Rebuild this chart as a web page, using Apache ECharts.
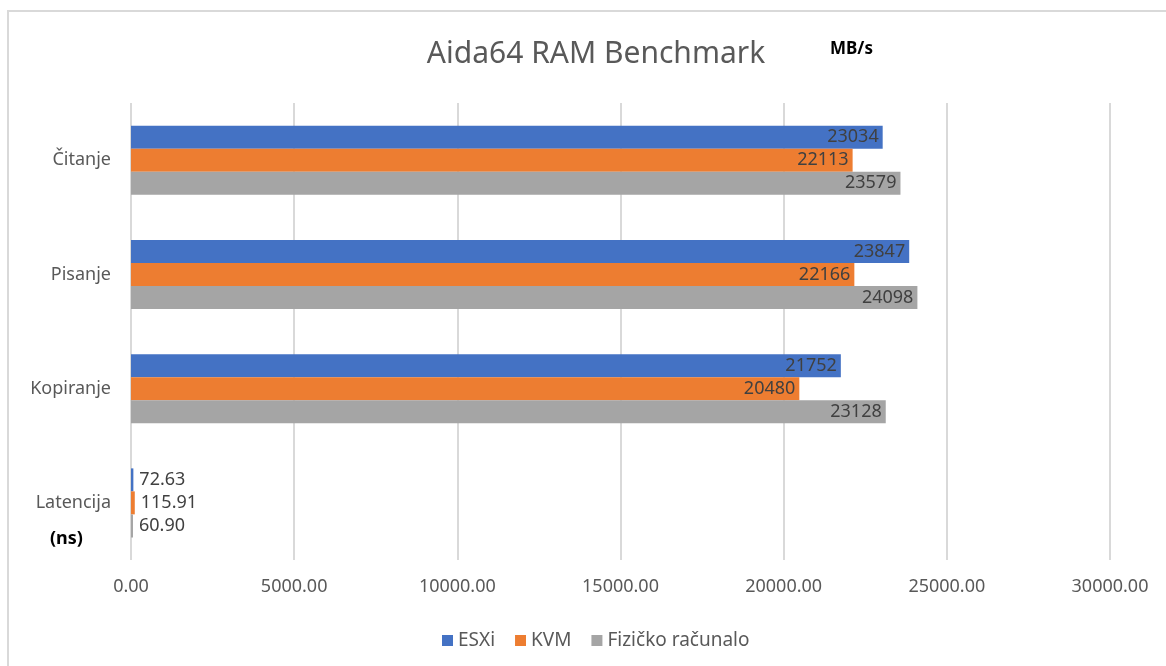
<!DOCTYPE html>
<html>
<head>
<meta charset="utf-8">
<script src="https://cdn.jsdelivr.net/npm/echarts@6/dist/echarts.min.js"></script>
<style>
  html, body { margin: 0; padding: 0; background: #fff; }
  #chart { width: 1166px; height: 666px; }
</style>
</head>
<body>
<div id="chart"></div>
<script>
  // podaci s grafa
  var categories = ['Čitanje', 'Pisanje', 'Kopiranje', 'Latencija'];
  var seriesNames = ['ESXi', 'KVM', 'Fizičko računalo'];
  var esxi = [23034, 23847, 21752, 72.63];
  var kvm = [22113, 22166, 20480, 115.91];
  var fizicko = [23579, 24098, 23128, 60.90];
  var colors = ['#4472C4', '#ED7D31', '#A5A5A5'];

  var font = 'Noto Sans';

  function makeData(arr) {
    return arr.map(function (v) {
      // male vrijednosti (latencija) idu izvan stupca
      if (v < 1000) {
        return { value: v, label: { position: 'right', distance: 6 } };
      }
      return { value: v };
    });
  }

  function makeSeries(name, arr, color) {
    return {
      name: name,
      type: 'bar',
      data: makeData(arr),
      barWidth: 23,
      barGap: '0%',
      itemStyle: { color: color },
      label: {
        show: true,
        position: 'insideRight',
        distance: 4,
        color: '#404040',
        fontFamily: font,
        fontSize: 18,
        formatter: function (p) {
          return p.value < 1000 ? p.value.toFixed(2) : String(p.value);
        }
      }
    };
  }

  var myChart = echarts.init(document.getElementById('chart'));
  myChart.setOption({
    animation: false,
    color: colors,
    title: {
      text: 'Aida64 RAM Benchmark',
      left: 591,
      textAlign: 'center',
      top: 34,
      textStyle: { color: '#595959', fontFamily: font, fontSize: 30, fontWeight: 'normal' }
    },
    graphic: [
      {
        type: 'rect',
        shape: { x: 8, y: 11, width: 1170, height: 700 },
        style: { fill: 'none', stroke: '#d9d9d9', lineWidth: 2 },
        silent: true
      },
      {
        type: 'text', left: 830, top: 41,
        style: { text: 'MB/s', fill: '#000', font: 'bold 17px "Noto Sans"' }
      },
      {
        type: 'text', left: 50, top: 530,
        style: { text: '(ns)', fill: '#000', font: 'bold 18px "Noto Sans"' }
      }
    ],
    grid: { left: 131, right: 56, top: 103, bottom: 106 },
    legend: {
      data: seriesNames,
      left: 437,
      top: 626,
      itemWidth: 11,
      itemHeight: 11,
      itemGap: 20,
      icon: 'rect',
      textStyle: { color: '#595959', fontFamily: font, fontSize: 19 }
    },
    xAxis: {
      type: 'value',
      min: 0,
      max: 30000,
      interval: 5000,
      axisLine: { show: false },
      axisTick: { show: false },
      splitLine: { show: true, lineStyle: { color: '#d9d9d9', width: 2 } },
      axisLabel: {
        color: '#595959',
        fontFamily: font,
        fontSize: 18,
        margin: 18,
        formatter: function (v) { return v.toFixed(2); }
      }
    },
    yAxis: {
      type: 'category',
      inverse: true,
      data: categories,
      axisLine: { show: false },
      axisTick: { show: false },
      axisLabel: { color: '#595959', fontFamily: font, fontSize: 18, margin: 20 }
    },
    series: [
      makeSeries(seriesNames[0], esxi, colors[0]),
      makeSeries(seriesNames[1], kvm, colors[1]),
      makeSeries(seriesNames[2], fizicko, colors[2])
    ]
  });
</script>
</body>
</html>
